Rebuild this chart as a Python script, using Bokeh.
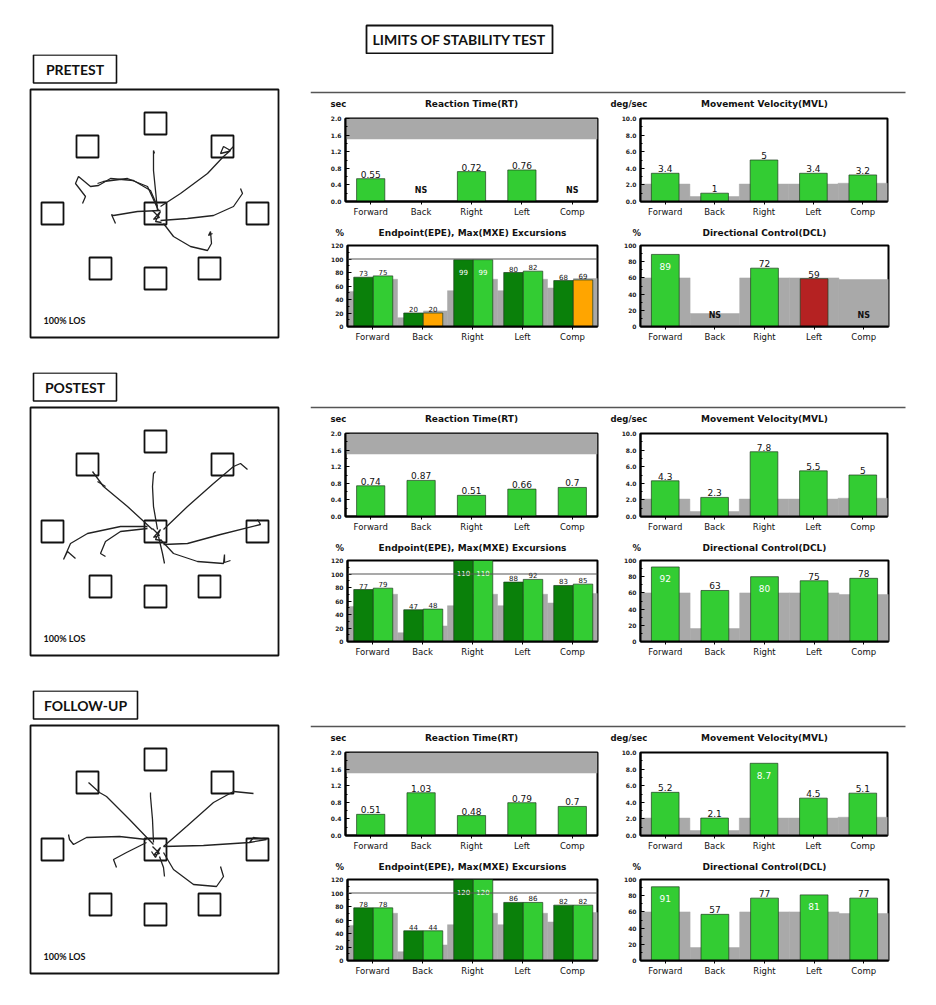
from bokeh.plotting import figure
from bokeh.layouts import column, row
from bokeh.models import Range1d, FixedTicker, NumeralTickFormatter, Span
from bokeh.core.properties import value
from bokeh.embed import file_html
from bokeh.resources import INLINE

# ---------------- data ----------------
directions = ["Forward", "Back", "Right", "Left", "Comp"]
session_names = ["PRETEST", "POSTEST", "FOLLOW-UP"]

# normative (gray) reference levels
rt_norm_band = [1.5, 2.0]
mvl_norm = [2.1, 0.6, 2.1, 2.1, 2.2]
epe_norm = [52, 13, 53, 53, 57]
mxe_norm = [70, 23, 70, 70, 71]
dcl_norm = [60, 16, 60, 60, 58]

# Reaction time (sec), None = NS
pre_rt = [0.55, None, 0.72, 0.76, None]
post_rt = [0.74, 0.87, 0.51, 0.66, 0.7]
fu_rt = [0.51, 1.03, 0.48, 0.79, 0.7]

# Movement velocity (deg/sec)
pre_mvl = [3.4, 1, 5, 3.4, 3.2]
post_mvl = [4.3, 2.3, 7.8, 5.5, 5]
fu_mvl = [5.2, 2.1, 8.7, 4.5, 5.1]

# Endpoint / Max excursions (%)
pre_epe = [73, 20, 99, 80, 68]
pre_mxe = [75, 20, 99, 82, 69]
post_epe = [77, 47, 110, 88, 83]
post_mxe = [79, 48, 110, 92, 85]
fu_epe = [78, 44, 120, 86, 82]
fu_mxe = [78, 44, 120, 86, 82]

# Directional control (%), None = NS
pre_dcl = [89, None, 72, 59, None]
post_dcl = [92, 63, 80, 75, 78]
fu_dcl = [91, 57, 77, 81, 77]

# status flags (below norm)
pre_mxe_flag = ["", "low", "", "", "low"]
pre_dcl_flag = ["", "", "", "fail", ""]
no_flag = ["", "", "", "", ""]

rt_ticks = [0, 0.4, 0.8, 1.2, 1.6, 2.0]
mvl_ticks = [0, 2, 4, 6, 8, 10]
epe_ticks = [0, 20, 40, 60, 80, 100, 120]
dcl_ticks = [0, 20, 40, 60, 80, 100]

# LOS targets, relative to the centre target
target_dx = [0, 0, -68, 67, -103, 102, -55, 54, 0]
target_dy = [0, -90, -67, -67, 0, 0, 55, 55, 65]

# COG traces, relative to the centre target
pre_traces = [
    [(2, -3), (0, -23), (-2, -43), (-2, -63), (-1, -60)],
    [(5, -7), (25, -20), (52, -40), (68, -57), (75, -63), (68, -67), (65, -60), (73, -62), (78, -67)],
    [(5, 7), (32, 5), (58, 2), (78, -7), (87, -20), (85, -25)],
    [(8, 10), (18, 23), (35, 33), (52, 37), (56, 30), (55, 18), (53, 22), (57, 20)],
    [(5, -3), (-18, -2), (-42, 2), (-44, 1), (-40, 10)],
    [(2, -7), (-5, -23), (-22, -33), (-45, -35), (-57, -28), (-65, -27), (-77, -37), (-80, -30), (-70, -17), (-73, -10)],
    [(3, -3), (-8, -27), (-28, -35), (-52, -32), (-58, -30)],
    [(-3, -3), (4, 4), (-2, 6), (5, -2), (0, 8), (6, 9)],
]
post_traces = [
    [(2, -2), (-2, -25), (-3, -45), (-2, -58), (0, -60), (-2, -58)],
    [(-3, -2), (-28, -25), (-52, -45), (-63, -60)],
    [(-58, -50), (-50, -45)],
    [(8, -2), (32, -25), (58, -48), (78, -65), (85, -68), (92, -62)],
    [(8, 13), (32, 12), (65, 3), (105, -7), (102, -12)],
    [(5, 8), (18, 22), (42, 30), (68, 32), (69, 23), (69, 31), (75, 29)],
    [(3, 5), (7, 22), (9, 32)],
    [(-8, -5), (-35, -5), (-68, 2), (-85, 12), (-92, 28), (-88, 20), (-80, 27)],
    [(-8, -3), (-35, 0), (-50, 10), (-55, 22), (-50, 25)],
    [(-3, -3), (4, 4), (-2, 6), (5, -2), (0, 8), (6, 9)],
]
fu_traces = [
    [(-2, -5), (-26, -30), (-49, -53), (-56, -57), (-67, -67)],
    [(-2, -7), (-3, -30), (-5, -53), (-5, -57)],
    [(8, -3), (31, -23), (58, -47), (78, -58), (98, -56)],
    [(8, -3), (48, -4), (94, -7), (111, -10), (98, -12), (94, -7)],
    [(8, 3), (18, 20), (38, 35), (61, 37), (68, 27), (65, 17)],
    [(4, 7), (8, 18), (9, 27)],
    [(-9, -10), (-36, -13), (-69, -12), (-82, -5), (-86, -10), (-87, -15)],
    [(-9, -7), (-29, 3), (-42, 10), (-39, 18)],
    [(-3, -3), (4, 4), (-2, 6), (5, -2), (0, 8), (-4, 2)],
]

# ---------------- style ----------------
LIGHT = "#33cc33"
DARK = "#0a800a"
ORANGE = "#ffa500"
RED = "#b52222"
GRAY = "#a9a9a9"
FLAG_COLOR = {"": LIGHT, "low": ORANGE, "fail": RED}
CHART_FONT = "DejaVu Sans"
HEAD_FONT = "Lato"
cats = [1, 2, 3, 4, 5]


def plain_fig(w, h):
    p = figure(width=w, height=h, x_range=Range1d(0, w), y_range=Range1d(h, 0),
               x_axis_location=None, y_axis_location=None, min_border=0,
               output_backend="svg", toolbar_location=None)
    p.xgrid.visible = False
    p.ygrid.visible = False
    p.outline_line_color = None
    return p


def head_text(p, x, y, txt, size, align="left", font=CHART_FONT):
    p.text(x=[x], y=[y], text=[txt], text_font=value(font), text_font_style="bold",
           text_font_size=size, text_align=align, text_baseline="middle", text_color="#111111")


def base_chart(w, h, ml, mr, mt, mb, ymax, ticks, fmt):
    p = figure(width=w, height=h, x_range=Range1d(0.5, 5.5), y_range=Range1d(0, ymax),
               min_border_left=ml, min_border_right=mr, min_border_top=mt, min_border_bottom=mb,
               output_backend="svg", toolbar_location=None)
    p.xgrid.visible = False
    p.ygrid.visible = False
    p.outline_line_color = "black"
    p.outline_line_width = 2
    p.outline_line_alpha = 1
    xa = p.xaxis[0]
    xa.ticker = FixedTicker(ticks=cats)
    xa.major_label_overrides = {c: d for c, d in zip(cats, directions)}
    xa.major_tick_in = 0
    xa.major_tick_out = 3
    xa.minor_tick_in = 0
    xa.minor_tick_out = 0
    xa.major_label_standoff = 2
    xa.major_label_text_font = CHART_FONT
    xa.major_label_text_font_size = "8.5px"
    xa.major_label_text_color = "#111111"
    xa.axis_line_width = 2
    step = ticks[1] - ticks[0]
    ya = p.yaxis[0]
    ya.ticker = FixedTicker(ticks=ticks, minor_ticks=[t + step / 2 for t in ticks[:-1]])
    ya.formatter = NumeralTickFormatter(format=fmt)
    ya.major_tick_in = 4
    ya.major_tick_out = 0
    ya.minor_tick_in = 2
    ya.minor_tick_out = 0
    ya.major_label_standoff = 4
    ya.major_label_text_font = CHART_FONT
    ya.major_label_text_font_size = "6px"
    ya.major_label_text_font_style = "bold"
    ya.major_label_text_color = "#222222"
    ya.axis_line_width = 2
    return p


def value_labels(p, xs, vals, tops, ymax, size):
    ax, ay, at, ix, iy, it = [], [], [], [], [], []
    for x, v, t in zip(xs, vals, tops):
        if v is None:
            continue
        lab = f"{v:g}"
        if v >= 0.8 * ymax:
            ix.append(x); iy.append(t); it.append(lab)
        else:
            ax.append(x); ay.append(t); at.append(lab)
    if ax:
        p.text(x=ax, y=ay, text=at, text_font=value(CHART_FONT), text_font_size=size,
               text_align="center", text_baseline="bottom", y_offset=-1, text_color="#111111")
    if it:
        p.text(x=ix, y=iy, text=it, text_font=value(CHART_FONT), text_font_size=size,
               text_align="center", text_baseline="middle", y_offset=12, text_color="white")
    ns = [x for x, v in zip(xs, vals) if v is None]
    if ns:
        p.text(x=ns, y=[0] * len(ns), text=["NS"] * len(ns), text_font=value(CHART_FONT),
               text_font_size="8px", text_font_style="bold", text_align="center",
               text_baseline="middle", y_offset=-11, text_color="#111111")


def single_bar_chart(w, h, ml, mr, mt, mb, ymax, ticks, fmt, vals, flags, norm=None, band=None):
    p = base_chart(w, h, ml, mr, mt, mb, ymax, ticks, fmt)
    if band is not None:
        p.quad(left=[0.5], right=[5.5], bottom=[band[0]], top=[band[1]],
               fill_color=GRAY, line_color=None)
    if norm is not None:
        p.quad(left=[c - 0.5 for c in cats], right=[c + 0.5 for c in cats], bottom=0, top=norm,
               fill_color=GRAY, line_color=GRAY, line_width=0.5)
    bx = [c for c, v in zip(cats, vals) if v is not None]
    bt = [v for v in vals if v is not None]
    bc = [FLAG_COLOR[f] for f, v in zip(flags, vals) if v is not None]
    p.vbar(x=bx, width=0.56, bottom=0, top=bt, fill_color=bc, line_color="#1e3d1e", line_width=0.7)
    value_labels(p, cats, vals, [0 if v is None else v for v in vals], ymax, "9px")
    return p


def excursion_chart(w, h, ml, mr, mt, mb, epe, mxe, mxe_flags):
    ymax = 120
    p = base_chart(w, h, ml, mr, mt, mb, ymax, epe_ticks, "0")
    p.quad(left=[c - 0.5 for c in cats], right=[c + 0.02 for c in cats], bottom=0, top=epe_norm,
           fill_color=GRAY, line_color=GRAY, line_width=0.5)
    p.quad(left=[c + 0.02 for c in cats], right=[c + 0.5 for c in cats], bottom=0, top=mxe_norm,
           fill_color=GRAY, line_color=GRAY, line_width=0.5)
    dx = [c - 0.18 for c in cats]
    lx = [c + 0.21 for c in cats]
    dtop = [ymax if v > 100 else v for v in epe]
    ltop = [ymax if v > 100 else v for v in mxe]
    p.vbar(x=dx, width=0.39, bottom=0, top=dtop, fill_color=DARK, line_color="#1e3d1e", line_width=0.7)
    p.vbar(x=lx, width=0.39, bottom=0, top=ltop, fill_color=[FLAG_COLOR[f] for f in mxe_flags],
           line_color="#1e3d1e", line_width=0.7)
    p.add_layout(Span(location=100, dimension="width", line_color="#555555", line_width=1.2))
    value_labels(p, dx, epe, dtop, ymax, "7px")
    value_labels(p, lx, mxe, ltop, ymax, "7px")
    return p


def los_fig(h, label, label_w, traces):
    p = plain_fig(310, h)
    p.quad(left=[33], right=[33 + label_w], top=[0.5], bottom=[28.5], fill_color=None,
           line_color="#111111", line_width=1.6)
    head_text(p, 33 + label_w / 2, 15, label, "14px", "center", HEAD_FONT)
    p.quad(left=[30], right=[278], top=[35], bottom=[283], fill_color=None,
           line_color="#111111", line_width=1.8)
    cx, cy = 155, 159
    p.rect(x=[cx + d for d in target_dx], y=[cy + d for d in target_dy], width=22, height=22,
           fill_color=None, line_color="#111111", line_width=1.8)
    p.multi_line(xs=[[cx + a for a, b in t] for t in traces], ys=[[cy + b for a, b in t] for t in traces],
                 line_color="#222222", line_width=1.3)
    head_text(p, 43, 266, "100% LOS", "9px", "left", HEAD_FONT)
    return p


def section(label, label_w, traces, rt, mvl, epe, mxe, mxe_flags, dcl, dcl_flags, total, shift):
    left = los_fig(total, label, label_w, traces)
    hh = 58 + shift
    h1 = plain_fig(618, hh)
    h1.segment(x0=[0], y0=[hh - 20], x1=[595], y1=[hh - 20], line_color="#555555", line_width=1.5)
    head_text(h1, 20, hh - 9, "sec", "8.5px")
    head_text(h1, 161, hh - 9, "Reaction Time(RT)", "9px", "center")
    head_text(h1, 300, hh - 9, "deg/sec", "8.5px")
    head_text(h1, 454, hh - 9, "Movement Velocity(MVL)", "9px", "center")
    rtp = single_bar_chart(295, 112, 35, 8, 6, 23, 2.0, rt_ticks, "0.0", rt, no_flag, band=rt_norm_band)
    mvp = single_bar_chart(323, 112, 35, 41, 6, 23, 10, mvl_ticks, "0.0", mvl, no_flag, norm=mvl_norm)
    h2 = plain_fig(618, 17)
    head_text(h2, 25, 8, "%", "8.5px")
    head_text(h2, 162, 8, "Endpoint(EPE), Max(MXE) Excursions", "9px", "center")
    head_text(h2, 322, 8, "%", "8.5px")
    head_text(h2, 454, 8, "Directional Control(DCL)", "9px", "center")
    bh = total - hh - 112 - 17
    ep = excursion_chart(295, bh, 37, 8, 4, bh - 85, epe, mxe, mxe_flags)
    dp = single_bar_chart(323, bh, 35, 40, 4, bh - 85, 100, dcl_ticks, "0", dcl, dcl_flags, norm=dcl_norm)
    right = column(h1, row(rtp, mvp), h2, row(ep, dp))
    return row(left, right)


top = plain_fig(928, 54)
top.quad(left=[366], right=[552], top=[25], bottom=[53], fill_color=None, line_color="#111111", line_width=1.8)
head_text(top, 459, 39, "LIMITS OF STABILITY TEST", "14px", "center", HEAD_FONT)

s1 = section(session_names[0], 83, pre_traces, pre_rt, pre_mvl, pre_epe, pre_mxe, pre_mxe_flag,
             pre_dcl, pre_dcl_flag, 318, 0)
s2 = section(session_names[1], 83, post_traces, post_rt, post_mvl, post_epe, post_mxe, no_flag,
             post_dcl, no_flag, 318, -3)
s3 = section(session_names[2], 104, fu_traces, fu_rt, fu_mvl, fu_epe, fu_mxe, no_flag,
             fu_dcl, no_flag, 305, -2)

page = column(top, s1, s2, s3)
open("out.html", "w").write(file_html(page, INLINE))
